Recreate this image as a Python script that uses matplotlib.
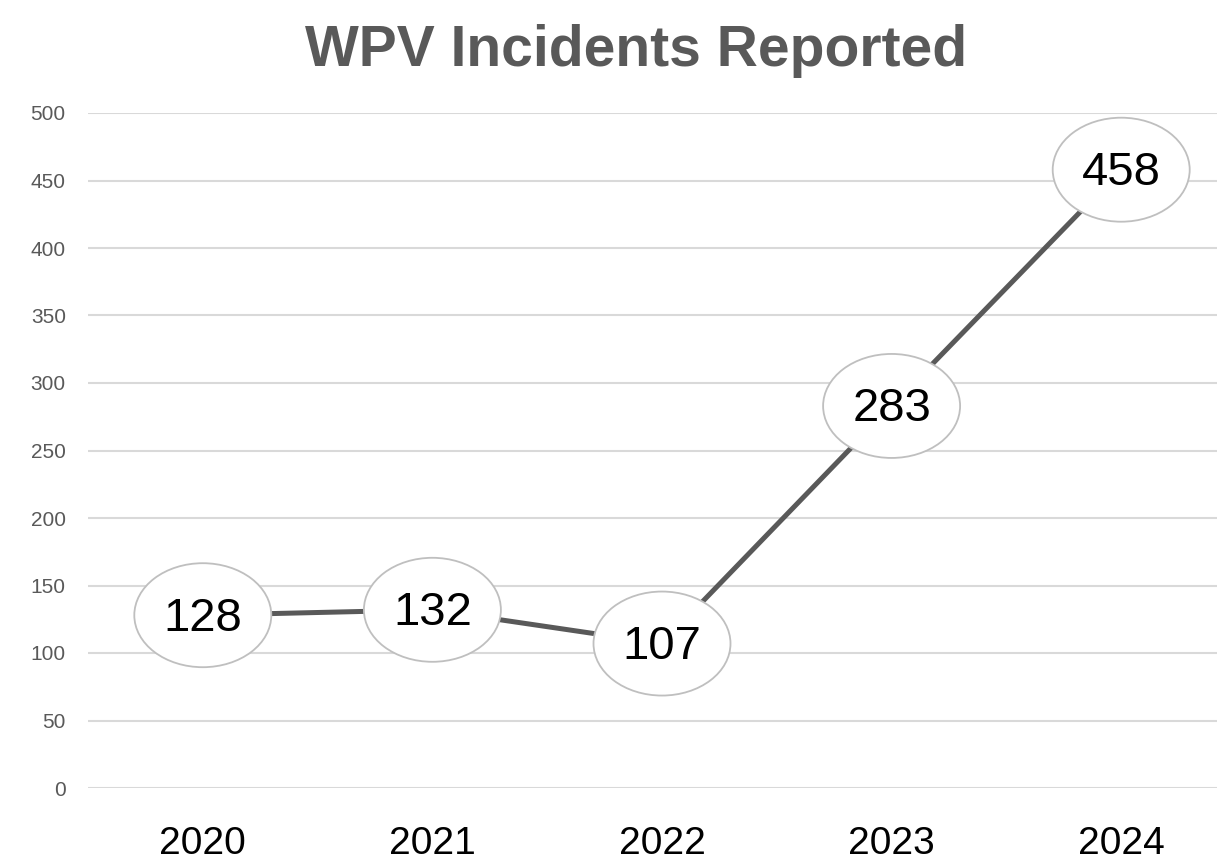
import matplotlib
matplotlib.use("Agg")
from matplotlib import pyplot as plt
from matplotlib.patches import Ellipse
from matplotlib.transforms import ScaledTranslation
import numpy as np

years = ["2020", "2021", "2022", "2023", "2024"]
incidents = [128, 132, 107, 283, 458]
y_ticks = [0, 50, 100, 150, 200, 250, 300, 350, 400, 450, 500]

plt.rcParams['font.family'] = ['Liberation Sans', 'DejaVu Sans']

W, H = 1217, 865
fig = plt.figure(figsize=(W / 100, H / 100), dpi=100)
ax = fig.add_axes([88 / W, 77 / H, 1148 / W, 675 / H])

x = np.arange(len(years))
ax.plot(x, incidents, color='#595959', lw=3.6, solid_capstyle='round', zorder=2)

# data labels in ellipses
for xi, v in zip(x, incidents):
    tr = fig.dpi_scale_trans + ScaledTranslation(xi, v, ax.transData)
    ax.add_patch(Ellipse((0, 0), 1.37, 1.04, transform=tr, facecolor='white',
                         edgecolor='#bfbfbf', lw=1.3, zorder=3, clip_on=False))
    ax.annotate(str(v), (xi, v), xytext=(0, -2.5), textcoords='offset points',
                ha='center', va='center', fontsize=34, color='black', zorder=4)

ax.set_xlim(-0.5, len(years) - 0.5)
ax.set_ylim(0, 500)
ax.set_yticks(y_ticks)
ax.set_xticks(x)
ax.set_xticklabels(years, fontsize=28, color='black')
ax.tick_params(axis='x', length=0, pad=27.5)
ax.tick_params(axis='y', length=0, pad=16, labelsize=15, labelcolor='#595959')
ax.grid(axis='y', color='#d9d9d9', lw=1.5, zorder=0)
for s in ax.spines.values():
    s.set_visible(False)

fig.text(636.5 / W, (H - 66) / H, "WPV Incidents Reported", ha='center',
         va='baseline', fontsize=41, fontweight='bold', color='#595959',
         family=['Liberation Sans Narrow', 'Liberation Sans', 'DejaVu Sans'])

fig.savefig("out.png", dpi=100)
